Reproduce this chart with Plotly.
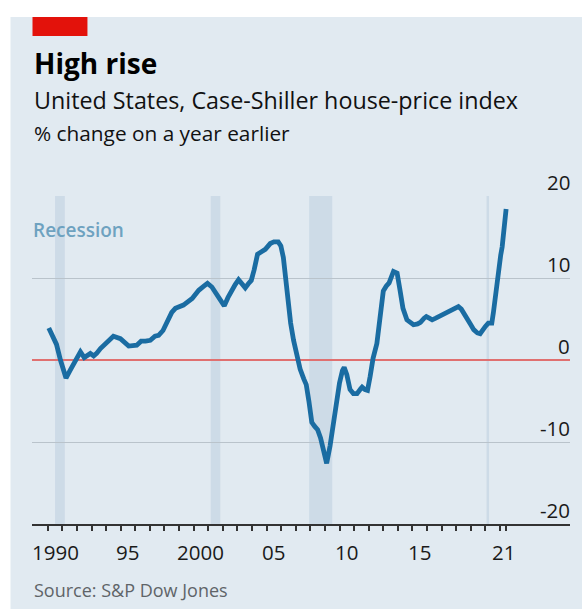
import plotly.graph_objects as go

# ---------------- data ----------------
years = [1990.07, 1990.35, 1990.6, 1990.87, 1991.1, 1991.25, 1991.55, 1991.9, 1992.24, 1992.5,
         1992.75, 1992.92, 1993.15, 1993.35, 1993.61, 1994.07, 1994.5, 1994.98, 1995.55, 1996.1,
         1996.4, 1996.7, 1997.03, 1997.35, 1997.6, 1997.9, 1998.2, 1998.5, 1998.75, 1999.3,
         1999.9, 2000.35, 2000.7, 2000.95, 2001.25, 2001.6, 2001.85, 2002.1, 2002.35, 2002.6,
         2002.85, 2003.08, 2003.3, 2003.54, 2003.75, 2003.95, 2004.15, 2004.38, 2004.65, 2004.91,
         2005.25, 2005.5, 2005.8, 2005.98, 2006.15, 2006.3, 2006.45, 2006.65, 2006.85, 2007.05,
         2007.3, 2007.55, 2007.72, 2007.9, 2008.1, 2008.3, 2008.5, 2008.7, 2008.95, 2009.12,
         2009.35, 2009.6, 2009.82, 2010.0, 2010.2, 2010.32, 2010.5, 2010.72, 2010.95, 2011.2,
         2011.45, 2011.55, 2011.75, 2011.92, 2012.1, 2012.3, 2012.56, 2012.8, 2013.0, 2013.2,
         2013.4, 2013.7, 2013.95, 2014.15, 2014.35, 2014.62, 2014.85, 2015.07, 2015.35, 2015.55,
         2015.8, 2015.95, 2016.15, 2016.35, 2016.6, 2016.8, 2017.1, 2017.35, 2017.6, 2017.9,
         2018.15, 2018.35, 2018.55, 2018.8, 2018.97, 2019.2, 2019.45, 2019.64, 2019.85, 2020.0,
         2020.2, 2020.44, 2020.55, 2020.67, 2020.8, 2020.92, 2021.05, 2021.15, 2021.29, 2021.42]
pct_change = [3.9, 3.0, 1.9, 0.0, -1.6, -2.2, -1.2, -0.2, 1.0, 0.3,
              0.7, 0.8, 0.5, 0.8, 1.4, 2.2, 2.9, 2.6, 1.7, 1.8,
              2.3, 2.3, 2.4, 2.9, 3.0, 3.6, 4.8, 5.8, 6.3, 6.7,
              7.5, 8.5, 9.0, 9.35, 8.9, 7.9, 7.2, 6.6, 7.6, 8.5,
              9.2, 9.8, 9.2, 8.8, 9.3, 9.7, 11.0, 12.9, 13.2, 13.5,
              14.2, 14.4, 14.4, 13.9, 12.5, 10.0, 7.0, 4.5, 2.4, 0.5,
              -1.1, -2.3, -3.0, -5.0, -7.6, -8.1, -8.5, -9.5, -11.3, -12.6,
              -10.5, -7.2, -5.0, -2.8, -1.3, -0.9, -1.8, -3.6, -4.1, -4.1,
              -3.5, -3.3, -3.6, -3.7, -2.0, 0.2, 2.0, 5.5, 8.4, 9.0,
              9.4, 10.8, 10.6, 8.5, 6.3, 4.9, 4.5, 4.3, 4.4, 4.6,
              5.1, 5.3, 5.1, 4.9, 5.1, 5.3, 5.6, 5.8, 6.0, 6.3,
              6.5, 6.2, 5.7, 4.9, 4.4, 3.7, 3.3, 3.2, 3.6, 4.1,
              4.5, 4.5, 5.8, 7.7, 9.6, 11.4, 12.8, 13.8, 16.3, 18.4]

recession_start = [1990.5, 2001.17, 2007.92, 2020.08]
recession_end = [1991.17, 2001.83, 2009.5, 2020.25]

y_ticks = [-20, -10, 0, 10, 20]
y_tick_text = ["-20", "-10", "0", "10", "20"]
x_label_pos = [1990.5, 1995.5, 2000.5, 2005.5, 2010.5, 2015.5, 2021.21]
x_label_text = ["1990", "95", "2000", "05", "10", "15", "21"]
year_ticks = list(range(1990, 2022)) + [2021.42]
long_ticks = [1990, 1991, 1995, 1996, 2000, 2001, 2005, 2006, 2010, 2011, 2015, 2016, 2021, 2021.42]

# ---------------- geometry ----------------
W, H = 582, 609
L, R, T, B = 31.5, 12, 196, 85
PW, PH = W - L - R, H - T - B


def fx(px):
    return (px - L) / PW


def fy(py):
    return (H - B - py) / PH


FONT = "Open Sans"
BG = "#e1eaf1"

fig = go.Figure()
fig.add_trace(go.Scatter(
    x=years, y=pct_change, mode="lines",
    line=dict(color="#1a6ca2", width=4.8),
    hoverinfo="skip", showlegend=False,
))

shapes = [
    dict(type="rect", xref="paper", yref="paper", x0=fx(10), x1=fx(W + 2), y0=fy(H + 2), y1=fy(17),
         fillcolor=BG, line=dict(width=0), layer="below"),
    dict(type="rect", xref="paper", yref="paper", x0=fx(32), x1=fx(87), y0=fy(36), y1=fy(17),
         fillcolor="#e3120b", line=dict(width=0), layer="below"),
]
for s, e in zip(recession_start, recession_end):
    shapes.append(dict(type="rect", xref="x", yref="paper", x0=s, x1=e, y0=0, y1=1,
                       fillcolor="#cddbe7", line=dict(width=0), layer="below"))

annotations = [
    dict(text="<b>High rise</b>", x=fx(32), y=fy(63), xref="paper", yref="paper",
         xanchor="left", yanchor="middle", showarrow=False,
         font=dict(family=FONT, size=28, color="#000000")),
    dict(text="United States, Case-Shiller house-price index", x=fx(32), y=fy(100),
         xref="paper", yref="paper", xanchor="left", yanchor="middle", showarrow=False,
         font=dict(family=FONT, size=23.3, color="#111111")),
    dict(text="% change on a year earlier", x=fx(32), y=fy(133),
         xref="paper", yref="paper", xanchor="left", yanchor="middle", showarrow=False,
         font=dict(family=FONT, size=20.8, color="#111111")),
    dict(text="Recession", x=fx(30), y=fy(230), xref="paper", yref="paper",
         xanchor="left", yanchor="middle", showarrow=False,
         font=dict(family=FONT, size=19, color="#6ea2c0", weight=600)),
    dict(text="Source: S&P Dow Jones", x=fx(32), y=fy(590), xref="paper", yref="paper",
         xanchor="left", yanchor="middle", showarrow=False,
         font=dict(family=FONT, size=18, color="#5f6468")),
]
for v, t in zip(y_ticks, y_tick_text):
    annotations.append(dict(text=t, x=1, y=v, xref="paper", yref="y", xanchor="right",
                            yanchor="bottom", showarrow=False, xshift=2, yshift=-2,
                            font=dict(family=FONT, size=20.5, color="#1a1a1a")))
for p, t in zip(x_label_pos, x_label_text):
    annotations.append(dict(text=t, x=p, y=fy(552), xref="x", yref="paper", xanchor="center",
                            yanchor="middle", showarrow=False,
                            font=dict(family=FONT, size=20.5, color="#1a1a1a")))

fig.update_layout(
    width=W, height=H,
    margin=dict(l=L, r=R, t=T, b=B, autoexpand=False),
    paper_bgcolor="white", plot_bgcolor="rgba(0,0,0,0)",
    shapes=shapes, annotations=annotations,
    showlegend=False,
    xaxis=dict(range=[1988.92, 2025.8], showgrid=False, zeroline=False,
               showline=True, linecolor="#333333", linewidth=2,
               tickmode="array", tickvals=long_ticks, ticktext=[""] * len(long_ticks),
               ticks="outside", ticklen=8, tickwidth=1.5, tickcolor="#333333",
               minor=dict(tickmode="array", tickvals=year_ticks, ticks="outside",
                          ticklen=5, tickwidth=1.5, tickcolor="#333333"),
               fixedrange=True),
    yaxis=dict(range=[-20, 20], tickmode="array", tickvals=y_ticks, showticklabels=False,
               showgrid=True, gridcolor="#b9c3cb", gridwidth=1.2,
               zeroline=True, zerolinecolor="#e07070", zerolinewidth=1.8,
               ticks="", fixedrange=True),
)

fig.write_html(
    "out.html",
    config={"displayModeBar": False},
    post_script="document.body.style.margin='0';document.body.style.overflow='hidden';",
)
